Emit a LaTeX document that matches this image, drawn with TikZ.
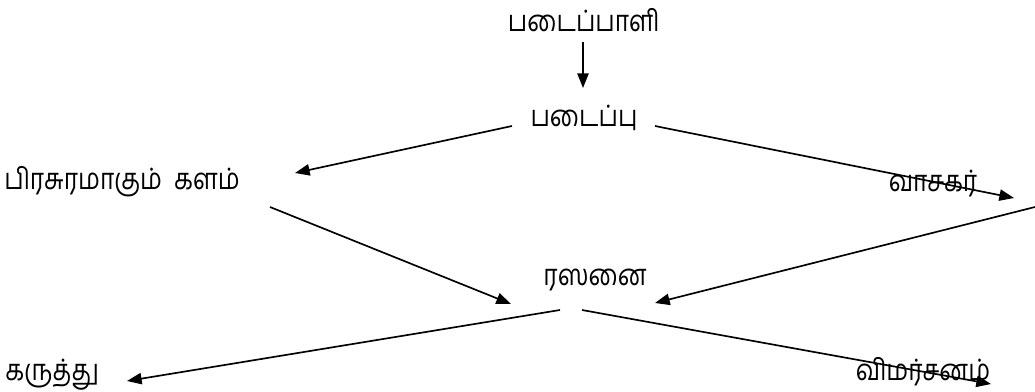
\documentclass[tikz,border=0pt]{standalone}
\usepackage{fontspec}
\usepackage{graphicx}
\newfontfamily\tamilfont[Script=Tamil]{Hind Madurai}
\newcommand{\tword}[1]{\scalebox{1}[1.2]{#1}}
\usetikzlibrary{arrows.meta}
\begin{document}
\begin{tikzpicture}[x={(0.75pt,0)}, y={(0,-0.75pt)},
  label/.style={inner sep=0pt, font=\tamilfont\fontsize{18.4}{20}\selectfont},
  link/.style={line width=1.25pt, -{Triangle[length=11pt,width=8.5pt]}}]
\useasboundingbox (0,0) rectangle (1035,392);
% terms
\node[label] (creator) at (584,20) {\tword{படைப்பாளி}};
\node[label] (work) at (584,118) {\tword{படைப்பு}};
\node[label] (venue) at (122,182) {\tword{பிரசுரமாகும்~~களம்}};
\node[label] (reader) at (933,184) {\tword{வாசகர்}};
\node[label] (taste) at (595,280) {\tword{ரஸனை}};
\node[label] (idea) at (52,375) {\tword{கருத்து}};
\node[label] (critique) at (923,372) {\tword{விமர்சனம்}};
% connector ends
\coordinate (c1) at (583,42);  \coordinate (c2) at (583,88);
\coordinate (w1) at (512,126); \coordinate (w2) at (295,173);
\coordinate (w3) at (655,126); \coordinate (w4) at (1014,198);
\coordinate (v1) at (270,207); \coordinate (v2) at (511,304);
\coordinate (r1) at (1035,207); \coordinate (r2) at (655,303);
\coordinate (t1) at (560,310); \coordinate (t2) at (127,381);
\coordinate (t3) at (582,310); \coordinate (t4) at (991,384);
% arrows
\draw[link] (c1) -- (c2);
\draw[link] (w1) -- (w2);
\draw[link] (w3) -- (w4);
\draw[link] (v1) -- (v2);
\draw[link] (r1) -- (r2);
\draw[link] (t1) -- (t2);
\draw[link] (t3) -- (t4);
\end{tikzpicture}
\end{document}
